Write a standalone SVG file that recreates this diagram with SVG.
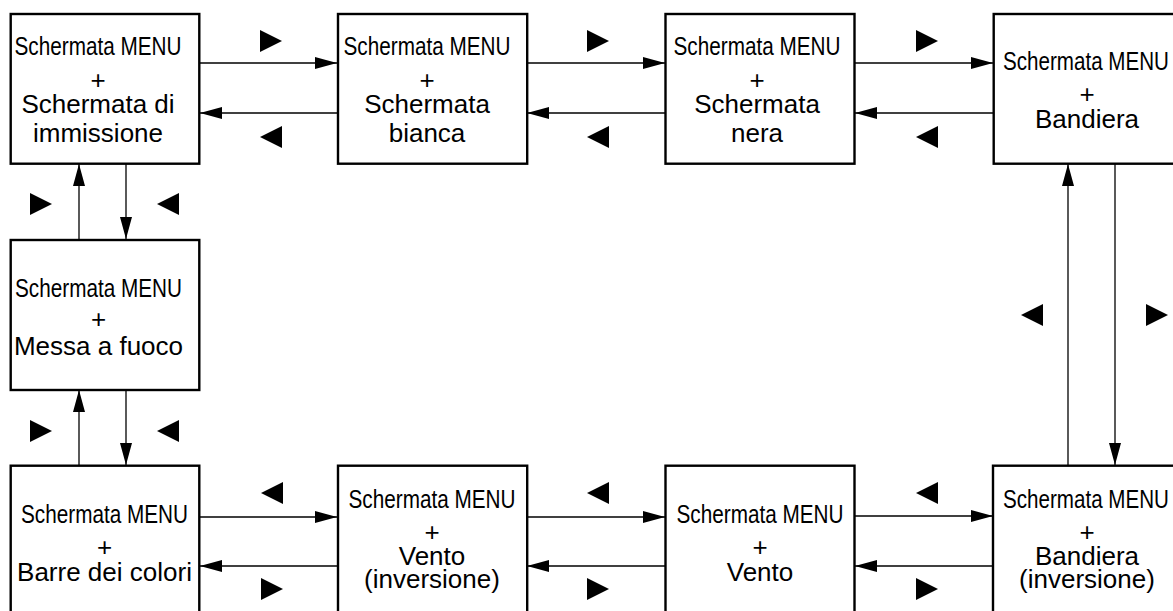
<svg xmlns="http://www.w3.org/2000/svg" width="1173" height="611" viewBox="0 0 1173 611">
<style>
.box{fill:#fff;stroke:#000;stroke-width:2.4}
.t{font-family:"Liberation Sans",Arial,Helvetica,sans-serif;font-size:26px;fill:#000;text-anchor:middle}
.ln{stroke:#000;stroke-width:1.3;fill:none;marker-end:url(#ah)}
.tri{fill:#000}
</style>
<defs>
<marker id="ah" markerUnits="userSpaceOnUse" markerWidth="22" markerHeight="12" refX="22" refY="6" orient="auto" viewBox="0 0 22 12">
<path d="M0,0 L22,6 L0,12 z" fill="#000"/>
</marker>
</defs>
<rect width="1173" height="611" fill="#fff"/>
<g id="connectors">
<line class="ln" x1="200" y1="63" x2="337" y2="63"/>
<line class="ln" x1="337" y1="113" x2="200" y2="113"/>
<line class="ln" x1="527" y1="63" x2="665" y2="63"/>
<line class="ln" x1="665" y1="113" x2="527" y2="113"/>
<line class="ln" x1="855" y1="63" x2="993" y2="63"/>
<line class="ln" x1="993" y1="113" x2="855" y2="113"/>
<line class="ln" x1="79" y1="239" x2="79" y2="164"/>
<line class="ln" x1="126" y1="164" x2="126" y2="239"/>
<line class="ln" x1="79" y1="465" x2="79" y2="390"/>
<line class="ln" x1="126" y1="390" x2="126" y2="465"/>
<line class="ln" x1="1068" y1="465" x2="1068" y2="164"/>
<line class="ln" x1="1115" y1="164" x2="1115" y2="465"/>
<line class="ln" x1="200" y1="517" x2="337" y2="517"/>
<line class="ln" x1="337" y1="566" x2="200" y2="566"/>
<line class="ln" x1="527" y1="517" x2="665" y2="517"/>
<line class="ln" x1="665" y1="566" x2="527" y2="566"/>
<line class="ln" x1="855" y1="516" x2="993" y2="516"/>
<line class="ln" x1="993" y1="566" x2="855" y2="566"/>
<polygon class="tri" points="260,30 282,41 260,52"/>
<polygon class="tri" points="282,126 260,137 282,148"/>
<polygon class="tri" points="587,30 609,41 587,52"/>
<polygon class="tri" points="609,126 587,137 609,148"/>
<polygon class="tri" points="916,30 938,41 916,52"/>
<polygon class="tri" points="938,126 916,137 938,148"/>
<polygon class="tri" points="30,193 52,204 30,215"/>
<polygon class="tri" points="179,193 157,204 179,215"/>
<polygon class="tri" points="30,420 52,431 30,442"/>
<polygon class="tri" points="179,420 157,431 179,442"/>
<polygon class="tri" points="1043,304 1021,315 1043,326"/>
<polygon class="tri" points="1146,304 1168,315 1146,326"/>
<polygon class="tri" points="283,482 261,493 283,504"/>
<polygon class="tri" points="261,578 283,589 261,600"/>
<polygon class="tri" points="609,482 587,493 609,504"/>
<polygon class="tri" points="587,578 609,589 587,600"/>
<polygon class="tri" points="938,482 916,493 938,504"/>
<polygon class="tri" points="916,578 938,589 916,600"/>
</g>
<g id="n1">
<rect class="box" x="10.7" y="14" width="188.6" height="149.7"/>
<text class="t" x="98" y="55" textLength="167" lengthAdjust="spacingAndGlyphs">Schermata MENU</text>
<text class="t" x="98" y="89">+</text>
<text class="t" x="98" y="113">Schermata di</text>
<text class="t" x="98" y="142">immissione</text>
</g>
<g id="n2">
<rect class="box" x="338" y="14" width="189.2" height="149.7"/>
<text class="t" x="427" y="55" textLength="167" lengthAdjust="spacingAndGlyphs">Schermata MENU</text>
<text class="t" x="427" y="89">+</text>
<text class="t" x="427" y="113">Schermata</text>
<text class="t" x="427" y="142">bianca</text>
</g>
<g id="n3">
<rect class="box" x="665.5" y="14" width="189" height="149.7"/>
<text class="t" x="757" y="55" textLength="167" lengthAdjust="spacingAndGlyphs">Schermata MENU</text>
<text class="t" x="757" y="89">+</text>
<text class="t" x="757" y="113">Schermata</text>
<text class="t" x="757" y="142">nera</text>
</g>
<g id="n4">
<rect class="box" x="993.7" y="14" width="189" height="149.7"/>
<text class="t" x="1086" y="70" textLength="166" lengthAdjust="spacingAndGlyphs">Schermata MENU</text>
<text class="t" x="1087" y="103">+</text>
<text class="t" x="1087" y="128">Bandiera</text>
</g>
<g id="n5">
<rect class="box" x="10.7" y="240" width="188.6" height="150"/>
<text class="t" x="98.5" y="297" textLength="167" lengthAdjust="spacingAndGlyphs">Schermata MENU</text>
<text class="t" x="98.5" y="328">+</text>
<text class="t" x="98.5" y="355">Messa a fuoco</text>
</g>
<g id="n6">
<rect class="box" x="10.7" y="465.7" width="188.6" height="150"/>
<text class="t" x="104.5" y="523" textLength="167" lengthAdjust="spacingAndGlyphs">Schermata MENU</text>
<text class="t" x="104.5" y="556">+</text>
<text class="t" x="104.5" y="581">Barre dei colori</text>
</g>
<g id="n7">
<rect class="box" x="338" y="465.7" width="189.2" height="150"/>
<text class="t" x="432" y="508" textLength="167" lengthAdjust="spacingAndGlyphs">Schermata MENU</text>
<text class="t" x="432" y="541">+</text>
<text class="t" x="432" y="565">Vento</text>
<text class="t" x="432" y="588">(inversione)</text>
</g>
<g id="n8">
<rect class="box" x="665.5" y="465.7" width="189" height="150"/>
<text class="t" x="760" y="523" textLength="167" lengthAdjust="spacingAndGlyphs">Schermata MENU</text>
<text class="t" x="760" y="556">+</text>
<text class="t" x="760" y="581">Vento</text>
</g>
<g id="n9">
<rect class="box" x="993" y="465.7" width="189" height="150"/>
<text class="t" x="1086" y="508" textLength="166" lengthAdjust="spacingAndGlyphs">Schermata MENU</text>
<text class="t" x="1087" y="541">+</text>
<text class="t" x="1087" y="565">Bandiera</text>
<text class="t" x="1087" y="588">(inversione)</text>
</g>
</svg>
